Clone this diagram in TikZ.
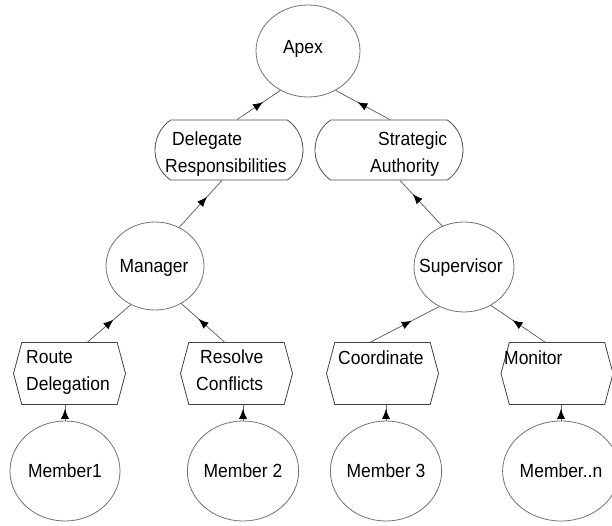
\documentclass[tikz,border=0pt]{standalone}
\usepackage{fontspec}
\setmainfont{Liberation Sans}[FakeStretch=0.92]
\usetikzlibrary{shapes.geometric,shapes.misc,shapes.symbols,arrows.meta,decorations.markings}

\tikzset{
  every node/.style={font=\fontsize{19}{27}\selectfont, inner sep=0pt},
  oval/.style={ellipse, draw=black!55, line width=0.8pt, fill=white},
  capsule/.style={rounded rectangle, rounded rectangle arc length=110,
    draw=black!70, line width=0.8pt, minimum width=148pt, minimum height=60pt},
  hexbox/.style={signal, signal to=west and east, signal pointer angle=150,
    draw=black!75, line width=0.8pt, minimum width=112pt, minimum height=62pt},
  txt/.style={align=left, anchor=north west},
  link/.style={draw=black!60, line width=0.8pt,
    decoration={markings, mark=at position #1 with
      {\arrow{Latex[length=10pt,width=8pt,black]}}},
    postaction={decorate}},
  link/.default=0.6
}

\begin{document}
\begin{tikzpicture}[x=1pt,y=-1pt]
\useasboundingbox (0,0) rectangle (612,526);

% top of the hierarchy
\node[oval, minimum width=104pt, minimum height=92pt] (apex) at (308,51) {};
\node at (303,49) {Apex};

% second level
\node[capsule] (deleg) at (229,150) {};
\node[txt] at (165,132) {\hspace*{7pt}Delegate\\Responsibilities};
\node[capsule] (strat) at (389,150) {};
\node[txt] at (370,132) {\hspace*{8pt}Strategic\\Authority};

% third level
\node[oval, minimum width=98pt, minimum height=88pt] (mgr) at (155,266) {};
\node at (154,268) {Manager};
\node[oval, minimum width=100pt, minimum height=90pt] (sup) at (464,267) {};
\node at (461,268) {Supervisor};

% task boxes
\node[hexbox] (route)   at (69.5,373.5) {};
\node[hexbox] (resolve) at (236.5,373.5) {};
\node[hexbox] (coord)   at (382.5,373.5) {};
\node[hexbox] (monitor) at (557,373.5) {};
\node[txt] at (26,350) {Route\\Delegation};
\node[txt] at (196,350) {\hspace*{4pt}Resolve\\Conflicts};
\node[txt] at (338,351) {Coordinate};
\node[txt] at (504,351) {Monitor};

% members
\node[oval, minimum width=110pt, minimum height=100pt] (m1) at (65,471) {Member1};
\node[oval, minimum width=110pt, minimum height=100pt] (m2) at (243,471) {Member 2};
\node[oval, minimum width=108pt, minimum height=100pt] (m3) at (386,471) {Member 3};
\node[oval, minimum width=108pt, minimum height=100pt] (mn) at (561,471) {Member..n};

% connectors, pointing upwards
\draw[link=0.75] (m1.north) -- (m1.north |- route.south);
\draw[link=0.75] (m2.north) -- (m2.north |- resolve.south);
\draw[link=0.75] (m3.north) -- (m3.north |- coord.south);
\draw[link=0.75] (mn.north) -- (mn.north |- monitor.south);

\draw[link] ([xshift=18pt]route.north) -- (mgr.238);
\draw[link] ([xshift=-12pt]resolve.north) -- (mgr.305);
\draw[link] ([xshift=-12pt]coord.north) -- (sup.238);
\draw[link] ([xshift=-12pt]monitor.north) -- (sup.305);

\draw[link=0.65] (mgr.58) -- ([xshift=-7pt]deleg.south);
\draw[link=0.7] (sup.118) -- ([xshift=11pt]strat.south);

\draw[link] ([xshift=8pt]deleg.north) -- (apex.235);
\draw[link] ([xshift=1pt]strat.north) -- (apex.305);
\end{tikzpicture}
\end{document}
